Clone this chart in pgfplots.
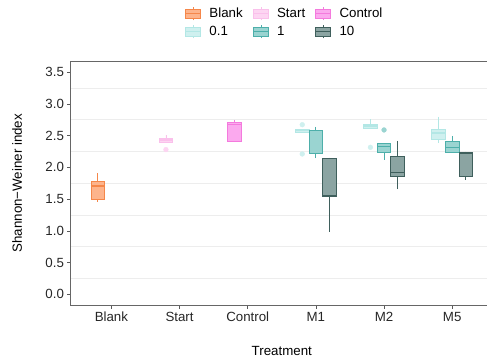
\documentclass[border=0pt]{standalone}
\usepackage{fontspec}
\setmainfont{Liberation Sans}
\usepackage{pgfplots}
\pgfplotsset{compat=1.18}
\usepgfplotslibrary{statistics}

\definecolor{bF}{HTML}{FDB48C}\definecolor{bD}{HTML}{F5874A}
\definecolor{sF}{HTML}{FDD5F2}\definecolor{sD}{HTML}{FAC0EB}
\definecolor{cF}{HTML}{FBA9EE}\definecolor{cD}{HTML}{F47ADD}
\definecolor{aF}{HTML}{CFF0EF}\definecolor{aD}{HTML}{B3E7E5}
\definecolor{oF}{HTML}{9AD4D1}\definecolor{oD}{HTML}{4DAFAA}
\definecolor{tF}{HTML}{8BA4A2}\definecolor{tD}{HTML}{3F5F5C}

\newcommand{\bx}[8]{\addplot[forget plot, fill=#7, draw=#8, line width=0.8bp,
  boxplot/draw direction=y,
  boxplot prepared={draw position=#1, lower whisker=#2, lower quartile=#3,
  median=#4, upper quartile=#5, upper whisker=#6, box extend=0.2, whisker extend=0,
  every median/.style={line width=1.6bp}}] coordinates {};}

\pgfplotsset{bpkey/.style 2 args={legend image code/.code={
  \draw[draw=#2,line width=0.8bp] (7.5bp,-6.8bp) -- (7.5bp,6.8bp);
  \filldraw[fill=#1,draw=#2,line width=0.8bp] (0bp,-4.5bp) rectangle (15bp,4.5bp);
  \draw[draw=#2,line width=1.4bp] (0bp,0bp) -- (15bp,0bp);}}}

\begin{document}
\begin{tikzpicture}
\useasboundingbox (0,0) rectangle (487bp,362bp);
\begin{axis}[
  at={(70.5bp,56.5bp)}, anchor=south west,
  scale only axis, width=422.6bp, height=244.5bp,
  xmin=0.4, xmax=6.6, ymin=-0.175, ymax=3.675,
  xtick={1,2,3,4,5,6},
  xticklabels={Blank,Start,Control,M1,M2,M5},
  ytick={0,0.5,1,1.5,2,2.5,3,3.5},
  yticklabel style={/pgf/number format/fixed,/pgf/number format/fixed zerofill,/pgf/number format/precision=1},
  /pgf/number format/assume math mode=true,
  minor ytick={0.25,0.75,1.25,1.75,2.25,2.75,3.25},
  yminorgrids, minor grid style={draw=black!7, line width=0.7bp},
  minor tick length=0pt,
  tick pos=left, tick align=outside, major tick length=3bp,
  major tick style={draw=black!65, line width=0.6bp},
  axis line style={draw=black!60, line width=0.7bp},
  ticklabel style={font=\fontsize{13.3bp}{16bp}\selectfont, text=black!85},
  xlabel={Treatment}, ylabel={Shannon−Weiner index},
  label style={font=\fontsize{13.3bp}{16bp}\selectfont},
  xlabel style={at={(axis description cs:0.5,-0.186)}, anchor=center},
  ylabel style={at={(axis description cs:-0.1266,0.5)}, anchor=center, rotate=0},
  legend columns=3, legend cell align=left,
  legend style={draw=none, fill=none, at={(0.507,1.1575)}, anchor=center,
    font=\fontsize{13.3bp}{16bp}\selectfont,
    /tikz/every odd column/.append style={column sep=6bp},
    /tikz/every even column/.append style={column sep=8bp},
    row sep=3bp},
]
\bx{0.8}{1.46}{1.497}{1.707}{1.775}{1.905}{bF}{bD}
\bx{1.8}{2.395}{2.395}{2.427}{2.458}{2.51}{sF}{sD}
\bx{2.8}{2.41}{2.41}{2.673}{2.704}{2.746}{cF}{cD}
\bx{3.8}{2.557}{2.557}{2.578}{2.598}{2.598}{aF}{aD}
\bx{4.0}{2.143}{2.222}{2.578}{2.59}{2.64}{oF}{oD}
\bx{4.2}{0.988}{1.539}{1.55}{2.143}{2.153}{tF}{tD}
\bx{4.8}{2.615}{2.615}{2.652}{2.678}{2.757}{aF}{aD}
\bx{5.0}{2.117}{2.243}{2.326}{2.373}{2.373}{oF}{oD}
\bx{5.2}{1.655}{1.854}{1.917}{2.169}{2.42}{tF}{tD}
\bx{5.8}{2.38}{2.443}{2.537}{2.60}{2.80}{aF}{aD}
\bx{6.0}{2.238}{2.238}{2.31}{2.405}{2.495}{oF}{oD}
\bx{6.2}{1.80}{1.854}{2.22}{2.232}{2.247}{tF}{tD}
\addplot[forget plot, only marks, mark=*, mark size=2.4bp, color=sF] coordinates {(1.8,2.28)};
\addplot[forget plot, only marks, mark=*, mark size=2.4bp, color=aF] coordinates {(3.8,2.672) (3.8,2.211) (4.8,2.316)};
\addplot[forget plot, only marks, mark=*, mark size=2.4bp, color=oF] coordinates {(5.0,2.589)};
\addlegendimage{bpkey={bF}{bD}}\addlegendentry{Blank}
\addlegendimage{bpkey={sF}{sD}}\addlegendentry{Start}
\addlegendimage{bpkey={cF}{cD}}\addlegendentry{Control}
\addlegendimage{bpkey={aF}{aD}}\addlegendentry{0.1}
\addlegendimage{bpkey={oF}{oD}}\addlegendentry{1}
\addlegendimage{bpkey={tF}{tD}}\addlegendentry{10}
\end{axis}
\end{tikzpicture}
\end{document}
